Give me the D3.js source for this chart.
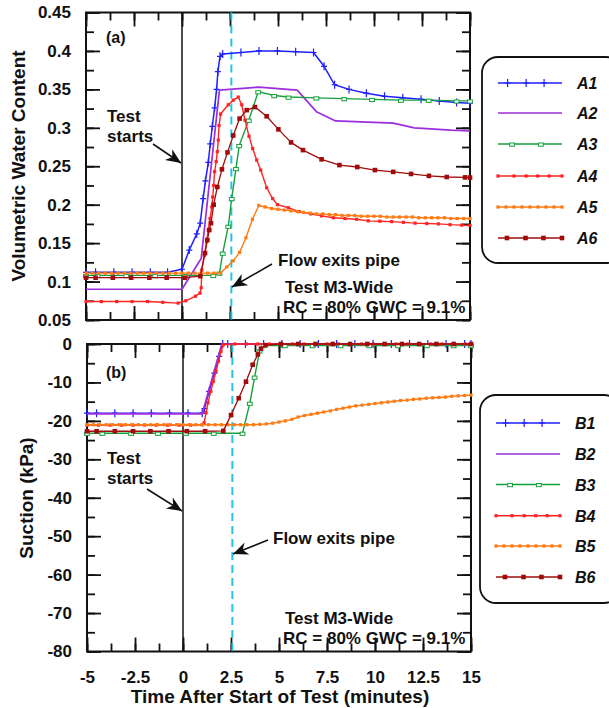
<!DOCTYPE html>
<html>
<head>
<meta charset="utf-8">
<script src="https://cdn.jsdelivr.net/npm/d3@7"></script>
<style>
body { margin: 0; background: #fff; }
svg text { font-family: "Liberation Sans", Arial, sans-serif; font-weight: bold; fill: #111; }
</style>
</head>
<body>
<svg id="chart" width="609" height="708"></svg>
<script>
// ---- data: [time (min), value] ----
var a1 = [[-5,0.112],[-4.5,0.112],[-3.55,0.112],[-2.6,0.112],[-1.65,0.112],[-0.75,0.112],[0,0.116],[0.38,0.141],[0.77,0.162],[0.95,0.176],[1.1,0.208],[1.22,0.231],[1.37,0.255],[1.47,0.279],[1.58,0.302],[1.7,0.326],[1.8,0.35],[1.87,0.373],[1.98,0.393],[2.12,0.396],[3.07,0.398],[4.01,0.4],[4.97,0.4],[5.92,0.399],[6.85,0.398],[7.4,0.38],[7.95,0.356],[8.7,0.35],[9.6,0.345],[10.55,0.341],[11.5,0.339],[12.45,0.337],[13.4,0.335],[14.3,0.333],[15,0.332]];
var a2 = [[-5,0.09],[0,0.09],[1.0,0.13],[1.95,0.349],[4.0,0.353],[6.0,0.349],[7.0,0.321],[8.0,0.309],[11.0,0.306],[12.1,0.3],[14.0,0.297],[15,0.296]];
var a3 = [[-5,0.108],[-4.4,0.108],[-2.9,0.108],[-1.4,0.108],[0.15,0.108],[1.63,0.108],[1.95,0.111],[2.12,0.137],[2.41,0.172],[2.59,0.208],[2.81,0.247],[2.98,0.277],[3.48,0.31],[3.97,0.347],[4.8,0.342],[5.55,0.34],[7.0,0.339],[8.45,0.338],[9.9,0.337],[11.4,0.336],[12.85,0.336],[14.3,0.335],[15,0.335]];
var a4 = [[-5,0.074],[-4.2,0.074],[-3.4,0.074],[-2.6,0.074],[-1.8,0.074],[-1.0,0.073],[-0.2,0.072],[0.2,0.075],[0.7,0.081],[0.94,0.085],[1.0,0.092],[1.03,0.115],[1.16,0.134],[1.28,0.152],[1.37,0.167],[1.46,0.182],[1.55,0.197],[1.6,0.21],[1.65,0.225],[1.7,0.243],[1.78,0.256],[1.84,0.269],[1.89,0.284],[1.93,0.303],[2.01,0.318],[2.41,0.33],[2.67,0.336],[2.93,0.34],[3.11,0.33],[3.28,0.31],[3.49,0.289],[3.68,0.273],[3.89,0.258],[4.1,0.245],[4.41,0.222],[4.72,0.208],[4.97,0.2],[5.54,0.196],[6.1,0.191],[6.7,0.188],[7.27,0.1855],[7.88,0.183],[8.49,0.182],[9.1,0.181],[9.7,0.179],[10.3,0.1785],[10.92,0.178],[11.53,0.177],[12.14,0.176],[12.75,0.1755],[13.35,0.175],[13.96,0.174],[14.57,0.1734],[15,0.173]];
var orangeTime = [-5,-4.67,-4.33,-4,-3.67,-3.33,-3,-2.67,-2.33,-2,-1.67,-1.33,-1,-0.67,-0.33,0,0.33,0.67,1,1.33,1.67,2,2.33,2.67,3,3.33,3.67,4,4.33,4.67,5,5.33,5.67,6,6.33,6.67,7,7.33,7.67,8,8.33,8.67,9,9.33,9.67,10,10.33,10.67,11,11.33,11.67,12,12.33,12.67,13,13.33,13.67,14,14.33,14.67,15];
var a5Vals = [0.111,0.111,0.111,0.111,0.111,0.111,0.111,0.111,0.111,0.111,0.111,0.111,0.111,0.111,0.111,0.111,0.111,0.111,0.111,0.111,0.111,0.111,0.119,0.127,0.138,0.157,0.181,0.199,0.197,0.195,0.194,0.193,0.192,0.191,0.19,0.189,0.188,0.188,0.187,0.187,0.186,0.186,0.186,0.185,0.185,0.185,0.185,0.184,0.184,0.184,0.184,0.184,0.183,0.183,0.183,0.183,0.183,0.182,0.182,0.182,0.182];
var a6 = [[-5,0.105],[-4.5,0.105],[-3.6,0.105],[-2.65,0.105],[-1.7,0.105],[-0.8,0.105],[0.15,0.105],[0.95,0.107],[1.2,0.137],[1.32,0.154],[1.42,0.167],[1.51,0.176],[1.65,0.2],[1.84,0.223],[2.08,0.246],[2.37,0.268],[2.67,0.29],[3.0,0.312],[3.37,0.323],[3.8,0.327],[4.41,0.315],[5.02,0.298],[5.68,0.281],[6.3,0.271],[7.27,0.259],[8.2,0.2515],[9.13,0.249],[10.05,0.245],[11.0,0.2427],[11.93,0.24],[12.86,0.2375],[13.79,0.236],[14.74,0.2355],[15,0.2353]];

var b1 = [[-5,-18],[-4.5,-18],[-3.55,-18],[-2.6,-18],[-1.65,-18],[-0.7,-18],[0.26,-18],[1.0,-18],[1.12,-16.8],[1.36,-12.3],[1.63,-7.6],[1.88,-3.2],[2.07,0],[2.33,0],[3.25,0],[4.2,0],[5.15,0],[6.1,0],[7.05,0],[8.0,0],[8.95,0],[9.9,0],[10.85,0],[11.8,0],[12.75,0],[13.7,0],[14.67,0],[15,0]];
var b2 = [[-5,-18.2],[1.0,-18.2],[2.02,0],[15,0]];
var b3 = [[-5,-23.2],[-4.2,-23.2],[-2.7,-23.2],[-1.3,-23.2],[0.15,-23.2],[1.6,-23.2],[3.1,-23.2],[3.48,-15.4],[3.73,-8.6],[3.99,-1.8],[4.2,-0.4],[5.3,-0.4],[6.75,-0.4],[8.2,-0.4],[9.7,-0.4],[11.2,-0.4],[12.7,-0.4],[14.1,-0.4],[15,-0.4]];
var b4 = [[-5,-21.1],[-4.4,-21.1],[-3.8,-21.1],[-3.2,-21.1],[-2.6,-21.1],[-2.0,-21.1],[-1.4,-21.1],[-0.8,-21.1],[-0.2,-21.1],[0.4,-21.1],[1.0,-21.0],[1.1,-20.5],[1.2,-17.9],[1.3,-15.3],[1.45,-12.3],[1.58,-9.7],[1.72,-7.1],[1.85,-4.5],[1.98,-1.9],[2.1,-0.2],[2.7,0],[3.3,0],[3.9,0],[4.5,0],[5.1,0],[5.7,0],[6.3,0],[6.9,0],[7.5,0],[8.1,0],[8.7,0],[9.3,0],[9.9,0],[10.5,0],[11.1,0],[11.7,0],[12.3,0],[12.9,0],[13.5,0],[14.1,0],[14.7,0],[15,0]];
var b5Vals = [-21,-21,-21,-21,-21,-21,-21,-21,-21,-21,-21,-21,-21,-21,-21,-21,-21,-21,-21,-21,-21,-21,-21,-21,-21,-21,-21,-20.9,-20.8,-20.6,-20.3,-20.0,-19.6,-19.0,-18.6,-18.3,-18.0,-17.7,-17.4,-17.0,-16.7,-16.4,-16.1,-15.9,-15.7,-15.5,-15.3,-15.1,-14.9,-14.7,-14.6,-14.4,-14.3,-14.1,-14.0,-13.9,-13.8,-13.6,-13.5,-13.4,-13.3];
var b6 = [[-5,-22.7],[-4.5,-22.7],[-3.55,-22.7],[-2.6,-22.7],[-1.7,-22.7],[-0.75,-22.7],[0.2,-22.7],[1.15,-22.7],[2.1,-22.6],[2.5,-18.5],[2.9,-14.1],[3.28,-9.8],[3.63,-5.4],[3.9,-2.7],[4.06,-1.2],[4.3,-0.3],[5.1,0],[6.0,0],[6.9,0],[7.8,0],[8.7,0],[9.6,0],[10.5,0],[11.4,0],[12.3,0],[13.2,0],[14.1,0],[15,0]];

var namesA = ["A1","A2","A3","A4","A5","A6"];
var namesB = ["B1","B2","B3","B4","B5","B6"];
var xTicks = [-5,-2.5,0,2.5,5,7.5,10,12.5,15];
var flowExit = 2.57;

var a5 = d3.zip(orangeTime, a5Vals);
var b5 = d3.zip(orangeTime, b5Vals);

// ---- styles ----
var styles = [
  {color: "#1f1fff", mark: "plus", w: 1.5},
  {color: "#9b2fdc", mark: null,   w: 1.7},
  {color: "#16a03c", mark: "open", w: 1.4},
  {color: "#ff2424", mark: "redsq", w: 1.4},
  {color: "#ff7a12", mark: "dot",  w: 1.4},
  {color: "#a00c0c", mark: "sq",   w: 1.3}
];
var legendMarks = [[0.15,0.44,0.72],[],[0.22,0.67],[0,0.25,0.44,0.62,0.8,1],[0,0.125,0.25,0.375,0.5,0.625,0.75,0.875,1],[0.14,0.43,0.71,1]];

var svg = d3.select("#chart");

var xTop = d3.scaleLinear().domain([-5, 15]).range([86, 470]);
var xBot = d3.scaleLinear().domain([-5, 15]).range([87, 471]);
var yTop = d3.scaleLinear().domain([0.05, 0.45]).range([320, 12.5]);
var yBot = d3.scaleLinear().domain([-80, 0]).range([651.5, 344]);

function minorTicks(lo, hi, step) {
  var out = [];
  for (var v = lo; v <= hi + 1e-9; v += step) out.push(+v.toFixed(4));
  return out;
}

function drawMarker(g, type, color) {
  if (type === "plus") {
    g.append("path").attr("d", "M-3,0H3M0,-4V4")
      .attr("stroke", color).attr("stroke-width", 1.2).attr("fill", "none");
  } else if (type === "open") {
    g.append("rect").attr("x", -2.4).attr("y", -1).attr("width", 4.8).attr("height", 3.2)
      .attr("fill", "#fff").attr("stroke", color).attr("stroke-width", 1);
  } else if (type === "redsq") {
    g.append("rect").attr("x", -1.6).attr("y", -1.6).attr("width", 3.2).attr("height", 3.2).attr("fill", color);
  } else if (type === "dot") {
    g.append("rect").attr("x", -1.6).attr("y", -1.6).attr("width", 3.2).attr("height", 3.2).attr("fill", color);
  } else if (type === "sq") {
    g.append("rect").attr("x", -2.3).attr("y", -2.3).attr("width", 4.6).attr("height", 4.6).attr("fill", color);
  }
}

function panel(x, y, yMajor, yMinor, fmt) {
  var g = svg.append("g");
  var x0 = x.range()[0], x1 = x.range()[1], y0 = y.range()[1], y1 = y.range()[0];
  var xMinor = minorTicks(-5, 15, 1.25);

  var axes = [
    [d3.axisTop(x).tickValues(xMinor).tickSize(-8), "translate(0," + y0 + ")"],
    [d3.axisTop(x).tickValues(xTicks).tickSize(-14), "translate(0," + y0 + ")"],
    [d3.axisBottom(x).tickValues(xMinor).tickSize(-8), "translate(0," + y1 + ")"],
    [d3.axisBottom(x).tickValues(xTicks).tickSize(-14), "translate(0," + y1 + ")"],
    [d3.axisLeft(y).tickValues(yMinor).tickSize(-8), "translate(" + x0 + ",0)"],
    [d3.axisRight(y).tickValues(yMinor).tickSize(-8), "translate(" + x1 + ",0)"],
    [d3.axisRight(y).tickValues(yMajor).tickSize(-14), "translate(" + x1 + ",0)"]
  ];
  axes.forEach(function (a) {
    g.append("g").attr("transform", a[1]).call(a[0].tickFormat(""));
  });
  // labelled left axis
  g.append("g").attr("transform", "translate(" + x0 + ",0)")
    .call(d3.axisLeft(y).tickValues(yMajor).tickSize(-14).tickPadding(15).tickFormat(fmt));

  g.selectAll(".domain").remove();
  g.selectAll(".tick line").attr("stroke", "#111").attr("stroke-width", 1.8);
  g.selectAll(".tick text").attr("font-size", 17).attr("fill", "#111")
    .style("font-family", '"Liberation Sans", Arial, sans-serif').style("font-weight", "bold");

  g.append("rect").attr("x", x0).attr("y", y0).attr("width", x1 - x0).attr("height", y1 - y0)
    .attr("fill", "none").attr("stroke", "#111").attr("stroke-width", 2);

  // test start and flow exit lines
  g.append("line").attr("x1", x(0)).attr("x2", x(0)).attr("y1", y0).attr("y2", y1)
    .attr("stroke", "#111").attr("stroke-width", 1.5);
  g.append("line").attr("x1", x(flowExit)).attr("x2", x(flowExit)).attr("y1", y0).attr("y2", y1)
    .attr("stroke", "#22c3e6").attr("stroke-width", 2).attr("stroke-dasharray", "8,5");
  return g;
}

function series(g, x, y, list) {
  var line = d3.line().x(function (d) { return x(d[0]); }).y(function (d) { return y(d[1]); });
  list.forEach(function (data, i) {
    var st = styles[i];
    g.append("path").datum(data).attr("d", line)
      .attr("fill", "none").attr("stroke", st.color).attr("stroke-width", st.w)
      .attr("stroke-linejoin", "round");
    if (st.mark) {
      g.selectAll(null).data(data).enter().append("g")
        .attr("transform", function (d) { return "translate(" + x(d[0]) + "," + y(d[1]) + ")"; })
        .each(function () { drawMarker(d3.select(this), st.mark, st.color); });
    }
  });
}

function legend(bx, by, bh, lx1, lx2, tx, ys, names) {
  var g = svg.append("g");
  g.append("rect").attr("x", bx).attr("y", by).attr("width", 140).attr("height", bh)
    .attr("rx", 16).attr("fill", "#fff").attr("stroke", "#111").attr("stroke-width", 1.8);
  names.forEach(function (n, i) {
    var st = styles[i], yy = ys[i];
    g.append("line").attr("x1", lx1).attr("x2", lx2).attr("y1", yy).attr("y2", yy)
      .attr("stroke", st.color).attr("stroke-width", st.w);
    legendMarks[i].forEach(function (f) {
      var m = g.append("g").attr("transform", "translate(" + (lx1 + f * (lx2 - lx1)) + "," + yy + ")");
      drawMarker(m, st.mark, st.color);
    });
    g.append("text").attr("x", tx).attr("y", yy + 6).attr("font-size", 16)
      .attr("font-style", "italic").text(n);
  });
}

function arrow(x1, y1, x2, y2) {
  var ang = Math.atan2(y2 - y1, x2 - x1) * 180 / Math.PI;
  svg.append("line").attr("x1", x1).attr("y1", y1).attr("x2", x2).attr("y2", y2)
    .attr("stroke", "#111").attr("stroke-width", 1.6);
  svg.append("path").attr("d", "M0,0L-15,-6.5L-10.5,0L-15,6.5Z").attr("fill", "#111")
    .attr("transform", "translate(" + x2 + "," + y2 + ") rotate(" + ang + ")");
}

function text(x, y, s, size, anchor) {
  return svg.append("text").attr("x", x).attr("y", y).attr("font-size", size || 17)
    .attr("text-anchor", anchor || "start").text(s);
}

// ---- top panel ----
var gTop = panel(xTop, yTop, minorTicks(0.05, 0.45, 0.05), minorTicks(0.05, 0.45, 0.025), function (d) { return d3.format("")(+d.toFixed(2)); });
series(gTop, xTop, yTop, [a1, a2, a3, a4, a5, a6]);

// ---- bottom panel ----
var gBot = panel(xBot, yBot, minorTicks(-80, 0, 10), minorTicks(-80, 0, 5), function (d) { return Math.round(d); });
series(gBot, xBot, yBot, [b1, b2, b3, b4, b5, b6]);

// x tick labels
var gx = svg.append("g").attr("transform", "translate(0,651.5)")
  .call(d3.axisBottom(xBot).tickValues(xTicks).tickSize(0).tickPadding(19).tickFormat(function (d) { return d; }));
gx.select(".domain").remove();
gx.selectAll("text").attr("font-size", 17).attr("fill", "#111")
  .style("font-family", '"Liberation Sans", Arial, sans-serif').style("font-weight", "bold");

// axis titles
text(280, 703, "Time After Start of Test (minutes)", 19, "middle");
svg.append("text").attr("transform", "translate(25,166) rotate(-90)").attr("text-anchor", "middle")
  .attr("font-size", 19).text("Volumetric Water Content");
svg.append("text").attr("transform", "translate(33,498) rotate(-90)").attr("text-anchor", "middle")
  .attr("font-size", 19).text("Suction (kPa)");

// annotations
text(106, 43, "(a)", 16);
text(106, 378, "(b)", 16);
text(107, 122, "Test"); text(107, 142, "starts");
text(107, 464, "Test"); text(107, 484, "starts");
arrow(153, 144, 181, 163);
arrow(147, 489, 182, 511);
text(278, 266, "Flow exits pipe");
text(273, 544, "Flow exits pipe");
arrow(272, 264, 232, 287);
arrow(268, 540, 233, 554);
text(285, 293, "Test M3-Wide"); text(283, 313, "RC = 80% GWC = 9.1%");
text(285, 624, "Test M3-Wide"); text(283, 644, "RC = 80% GWC = 9.1%");

// legends
legend(482, 57, 206, 498, 562, 577, [83, 113, 144, 176, 207, 238], namesA);
legend(480, 395, 208, 496, 560, 575, [423, 454, 484.5, 515.7, 546, 577], namesB);
</script>
</body>
</html>
